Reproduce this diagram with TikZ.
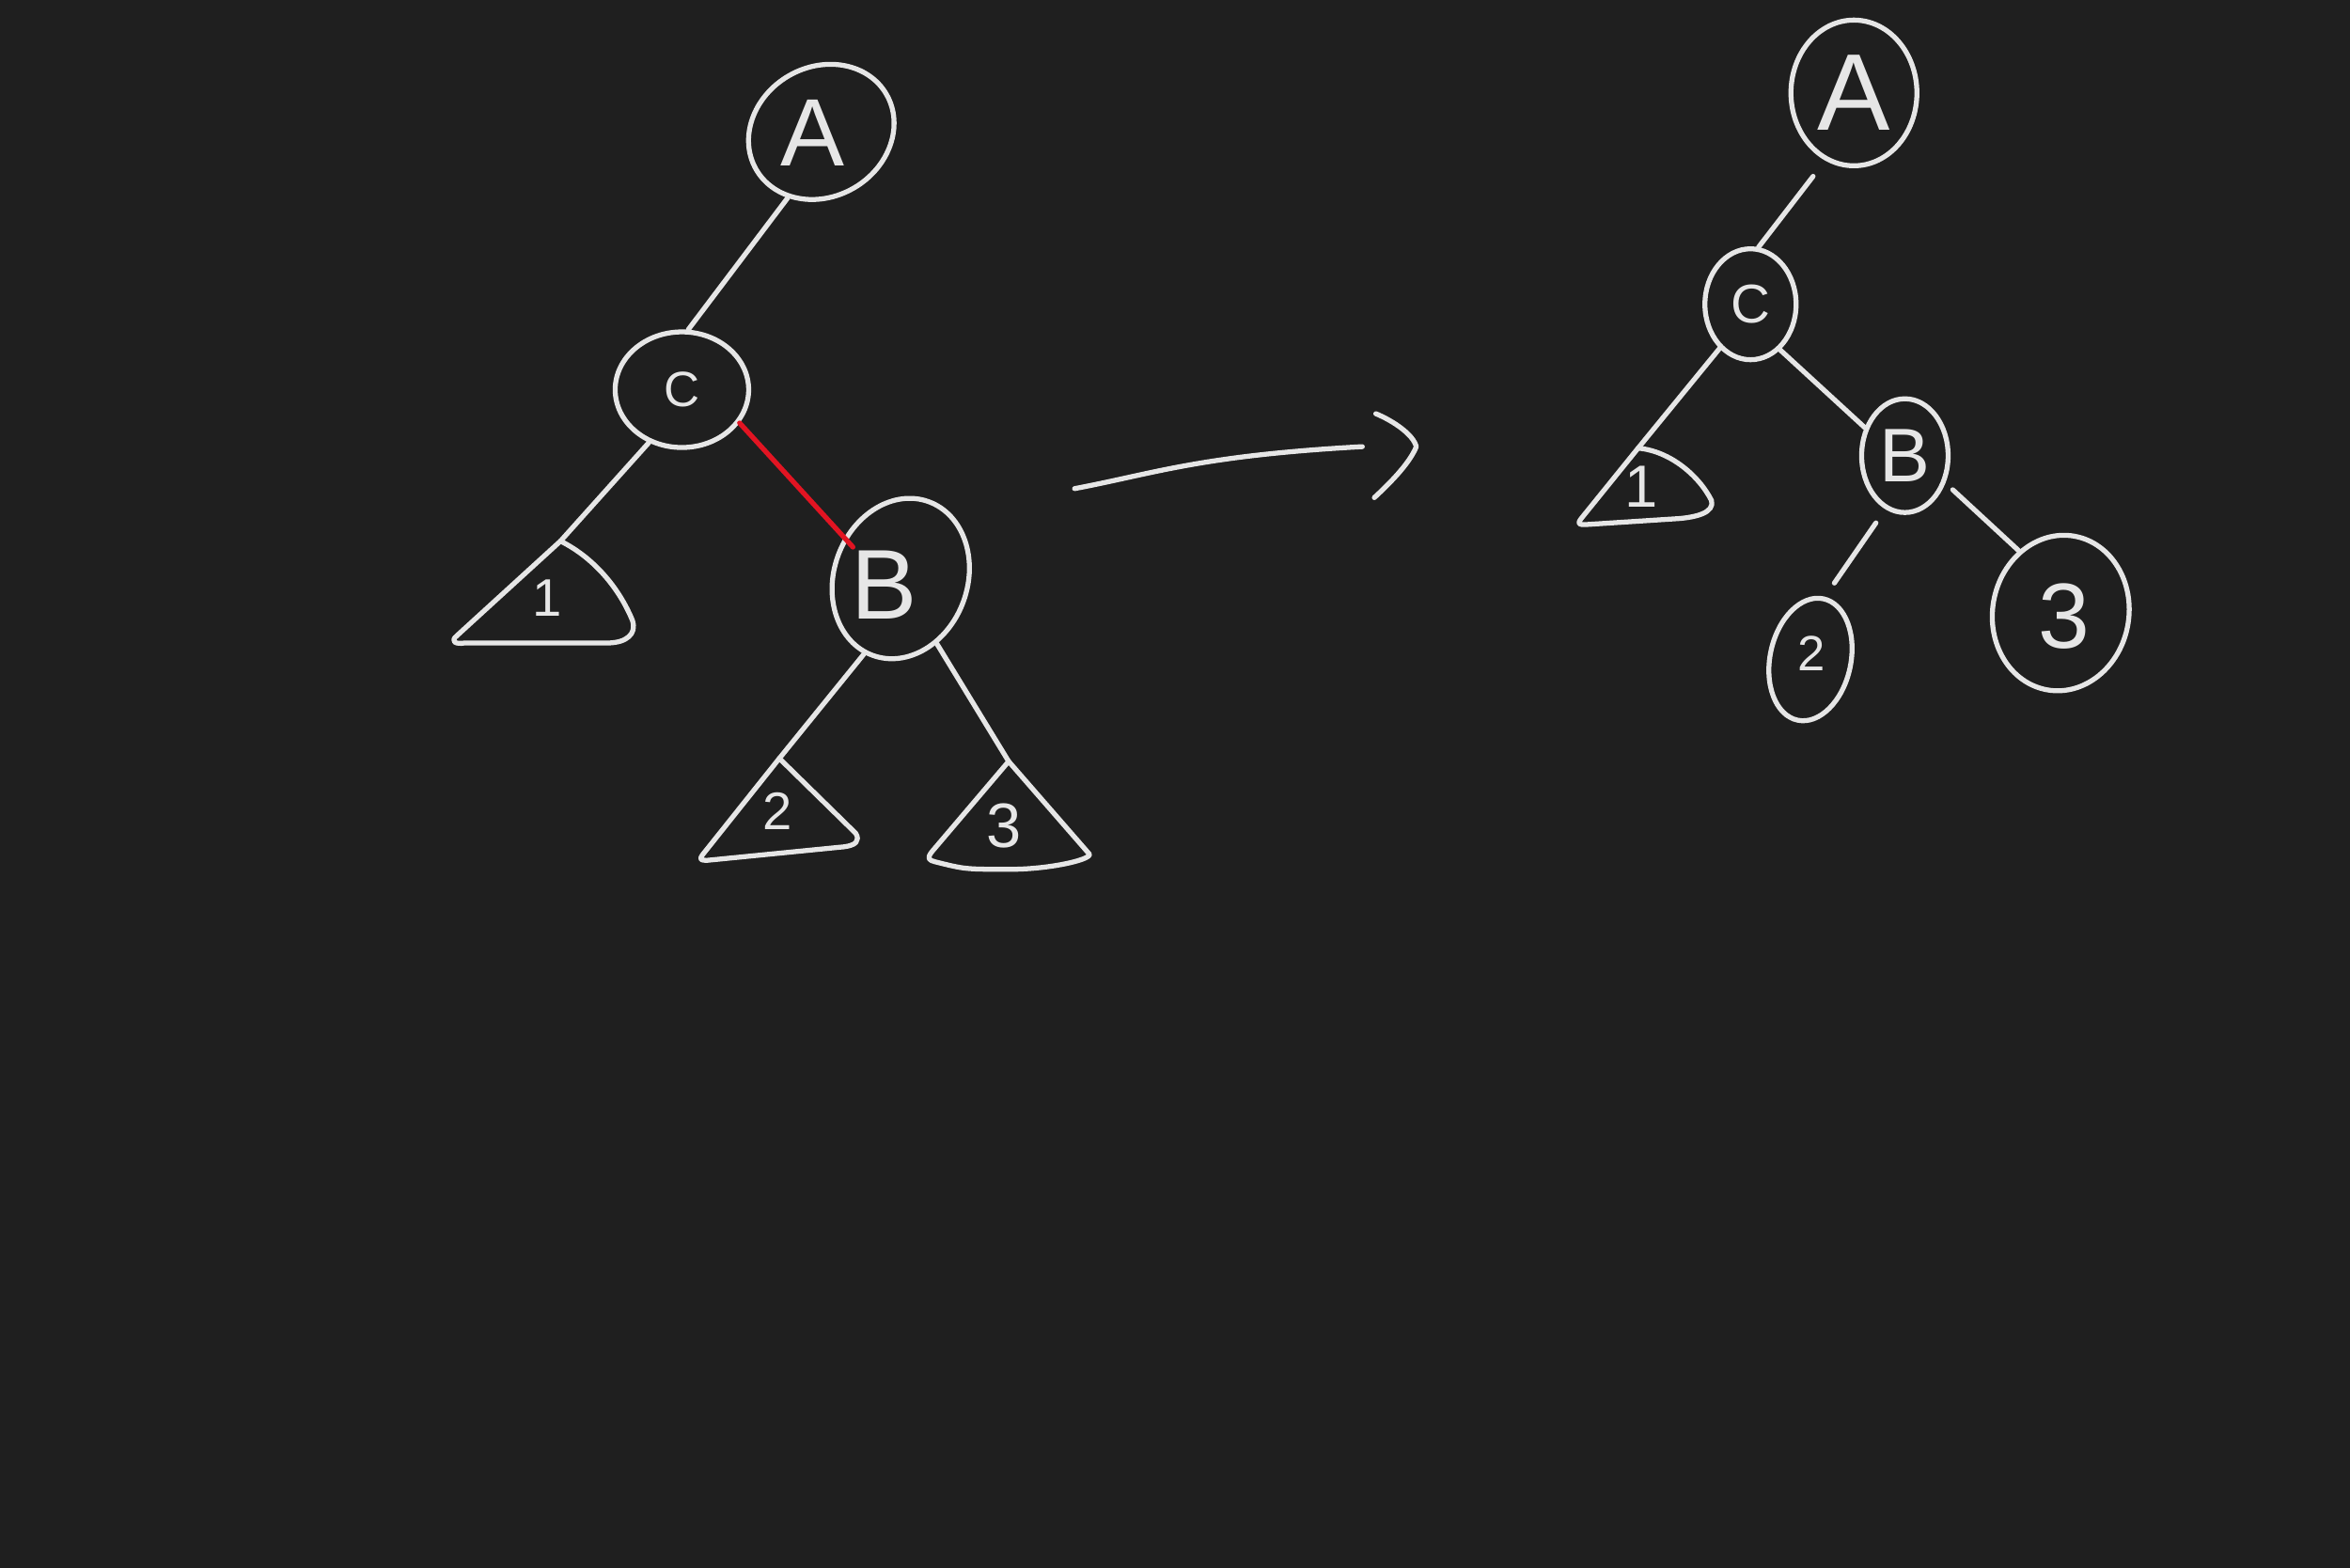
\documentclass[tikz,border=0pt]{standalone}
\usepackage{fontspec}
\setmainfont{Liberation Sans}
\usetikzlibrary{shapes.geometric}

\definecolor{board}{RGB}{31,31,31}
\definecolor{chalk}{RGB}{230,230,230}
\definecolor{marker}{RGB}{226,20,34}

\begin{document}
\begin{tikzpicture}[
    x=0.15944mm, y=-0.15944mm,
    % -- hand-drawn strokes
    stroke/.style={draw=chalk, line width=1.5pt, line cap=round, line join=round},
    redstroke/.style={stroke, draw=marker},
    % -- tree nodes and subtree labels
    bubble/.style={stroke, ellipse, inner sep=0pt, text=chalk},
    leaf/.style={text=chalk, inner sep=0pt},
    glyph/.style={font=\fontsize{#1}{#1}\selectfont}
]

% board
\fill[board] (0,0) rectangle (1568,1046);

% ---------------- before the rotation ----------------
\node[bubble, rotate=30, minimum width=16mm, minimum height=13.8mm] (A) at (548,88) {};
\node[leaf, glyph=29] (Aname) at (542,89) {A};
\node[bubble, minimum width=14.2mm, minimum height=12.3mm, glyph=15] (C) at (455,260) {C};
\node[bubble, rotate=-20, minimum width=14.2mm, minimum height=17.4mm] (B) at (601,386) {};
\node[leaf, glyph=30] (Bname) at (590,390) {B};

\node[leaf, glyph=16] (t1) at (365,399) {1};
\node[leaf, glyph=16] (t2) at (519,541) {2};
\node[leaf, glyph=19] (t3) at (670,551) {3};
\coordinate (t1top) at (374,361);
\coordinate (t2top) at (520,506);
\coordinate (t3top) at (673,508);

% subtrees
\draw[stroke] (t1top) -- ++(-69,63)
    .. controls +(-5,4) and +(-6,1) .. ++(5,5) -- ++(95,0)
    .. controls +(13,0) and +(3,9) .. ++(17,-15)
    .. controls +(-9,-22) and +(22,11) .. (t1top);
\draw[stroke] (t2top) -- ++(-51,64)
    .. controls +(-3,4) and +(-4,0) .. ++(3,4) -- ++(91,-9)
    .. controls +(8,-1) and +(3,5) .. ++(8,-9) -- (t2top);
\draw[stroke] (t3top) -- ++(-51,60)
    .. controls +(-4,5) and +(-4,-1) .. ++(2,7)
    .. controls +(20,5) and +(-30,0) .. ++(50,5)
    .. controls +(25,0) and +(0,4) .. ++(53,-10) -- (t3top);

% edges
\draw[stroke] (A.213) -- (C.84);
\draw[stroke] (C.238) -- (t1top);
\draw[redstroke, shorten >=-4pt] (C.330) -- (B.164);
\draw[stroke] (B.264) -- (t2top);
\draw[stroke] (B.319) -- (t3top);

% ---------------- arrow ----------------
\coordinate (from) at (717,326);
\coordinate (to) at (909,298);
\coordinate (tip) at (945,298);
\draw[stroke] (from) .. controls (770,316) and (800,304) .. (to);
\draw[stroke] (918,276) .. controls (930,281) and (943,290) .. (tip)
    .. controls (941,308) and (930,320) .. (917,332);

% ---------------- after the rotation ----------------
\node[bubble, minimum width=13.4mm, minimum height=15.5mm, glyph=33] (A2) at (1237,62) {A};
\node[bubble, minimum width=9.7mm, minimum height=11.8mm, glyph=16.5] (C2) at (1168,203) {C};
\node[bubble, minimum width=9.2mm, minimum height=12.1mm, glyph=23] (B2) at (1271,304) {B};
\node[bubble, rotate=-12, minimum width=8.6mm, minimum height=13.2mm] (n2) at (1208,440) {};
\node[leaf, glyph=15] (n2name) at (1209,436) {2};
\node[bubble, rotate=-10, minimum width=14.5mm, minimum height=16.6mm] (n3) at (1375,409) {};
\node[leaf, glyph=28] (n3name) at (1377,411) {3};

\node[leaf, glyph=18] (r1) at (1095,325) {1};
\coordinate (r1top) at (1093,299);
\draw[stroke] (r1top) -- ++(-38,47)
    .. controls +(-3,4) and +(-4,0) .. ++(3,4) -- ++(62,-4)
    .. controls +(12,-1) and +(2,8) .. ++(22,-12)
    .. controls +(-8,-16) and +(22,2) .. (r1top);

\draw[stroke, shorten <=6pt] (A2.247) -- (C2.82);
\draw[stroke] (C2.235) -- (r1top);
\draw[stroke] (C2.303) -- (B2.145);
\draw[stroke, shorten <=5pt, shorten >=5pt] (B2.250) -- (n2.89);
\draw[stroke, shorten <=3pt] (B2.326) -- (n3.134);

\end{tikzpicture}
\end{document}
